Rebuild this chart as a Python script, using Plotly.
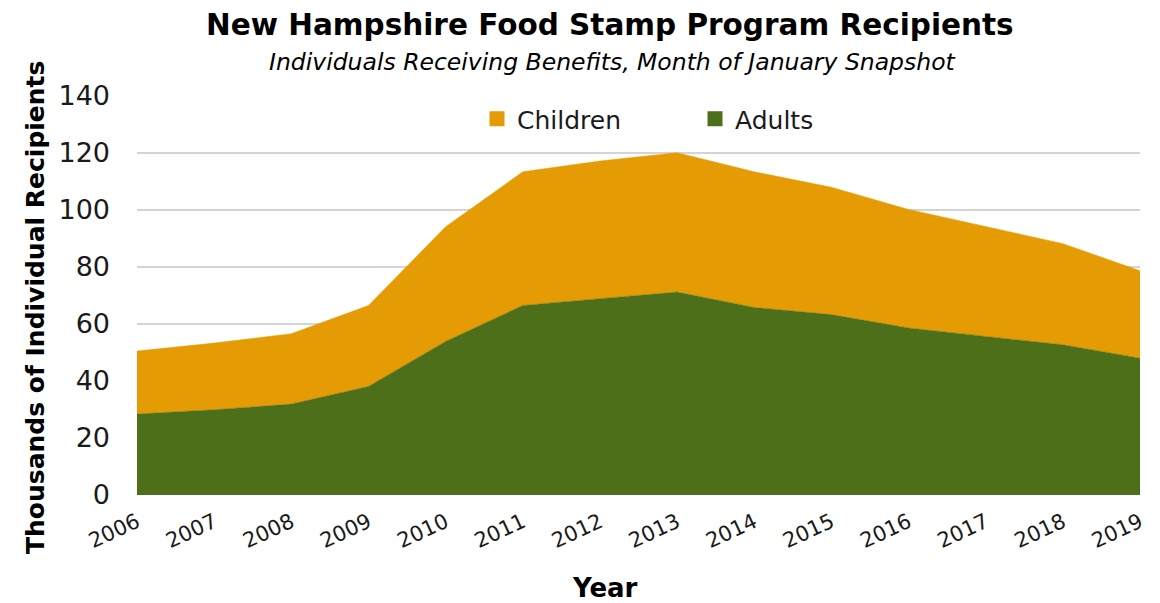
import plotly.graph_objects as go

years = [2006, 2007, 2008, 2009, 2010, 2011, 2012, 2013, 2014, 2015, 2016, 2017, 2018, 2019]
adults = [28.4, 29.9, 31.9, 38.1, 53.9, 66.5, 68.9, 71.2, 65.8, 63.3, 58.6, 55.6, 52.7, 48.0]
children = [22.1, 23.4, 24.7, 28.4, 40.2, 46.9, 48.3, 48.9, 47.6, 44.7, 41.6, 38.5, 35.5, 30.7]
y_ticks = [0, 20, 40, 60, 80, 100, 120, 140]

GREEN = "#4E6F1A"
ORANGE = "#E59C04"
FONT = "DejaVu Sans"
TXT = "#1a1a1a"

fig = go.Figure()
fig.add_trace(go.Scatter(x=years, y=adults, name="Adults", mode="lines",
                         stackgroup="one", line=dict(width=0.5, color=GREEN),
                         fillcolor=GREEN, showlegend=False))
fig.add_trace(go.Scatter(x=years, y=children, name="Children", mode="lines",
                         stackgroup="one", line=dict(width=0.5, color=ORANGE),
                         fillcolor=ORANGE, showlegend=False))
# legend-only entries with square swatches
fig.add_trace(go.Scatter(x=[None], y=[None], name="Children", mode="markers",
                         marker=dict(symbol="square", size=15, color=ORANGE)))
fig.add_trace(go.Scatter(x=[None], y=[None], name="Adults", mode="markers",
                         marker=dict(symbol="square", size=15, color=GREEN)))

# page body has an 8px margin, so the figure is sized/offset to compensate
fig.update_layout(
    width=1152, height=595,
    margin=dict(l=129, r=20, t=88, b=108, autoexpand=False),
    paper_bgcolor="white", plot_bgcolor="white",
    font=dict(family=FONT, color=TXT),
    legend=dict(orientation="h", x=0.339, xanchor="left", y=1.0, yanchor="top",
                traceorder="normal", font=dict(size=25, family=FONT, color=TXT),
                entrywidth=173, entrywidthmode="pixels", bgcolor="rgba(0,0,0,0)"),
    showlegend=True,
    annotations=[
        dict(text="<b>New Hampshire Food Stamp Program Recipients</b>",
             xref="paper", yref="paper", x=0.4716, y=1.178, xanchor="center", yanchor="middle",
             showarrow=False, font=dict(size=29.5, family=FONT, color="black")),
        dict(text="<i>Individuals Receiving Benefits, Month of January Snapshot</i>",
             xref="paper", yref="paper", x=0.4736, y=1.085, xanchor="center", yanchor="middle",
             showarrow=False, font=dict(size=23.5, family=FONT, color="black")),
        dict(text="<b>Thousands of Individual Recipients</b>", textangle=-90,
             xref="paper", yref="paper", x=-0.1017, y=0.471, xanchor="center", yanchor="middle",
             showarrow=False, font=dict(size=25, family=FONT, color="black")),
        dict(text="<b>Year</b>",
             xref="paper", yref="paper", x=0.4666, y=-0.232, xanchor="center", yanchor="middle",
             showarrow=False, font=dict(size=26, family=FONT, color="black")),
    ],
)
fig.update_xaxes(
    range=[2006, 2019], tickmode="array", tickvals=years,
    ticktext=[str(y) for y in years], tickangle=-25, automargin=False,
    tickfont=dict(size=21, family=FONT, color=TXT),
    showgrid=False, zeroline=False, showline=False, ticks="", ticklabelstandoff=10,
)
fig.update_yaxes(
    range=[0, 140], tickmode="array", tickvals=y_ticks, automargin=False,
    tickfont=dict(size=27, family=FONT, color=TXT),
    showgrid=True, gridcolor="#d4d4d4", gridwidth=1.5, zeroline=False,
    showline=False, ticks="", ticklabelstandoff=26,
)

fig.write_html("out.html")
